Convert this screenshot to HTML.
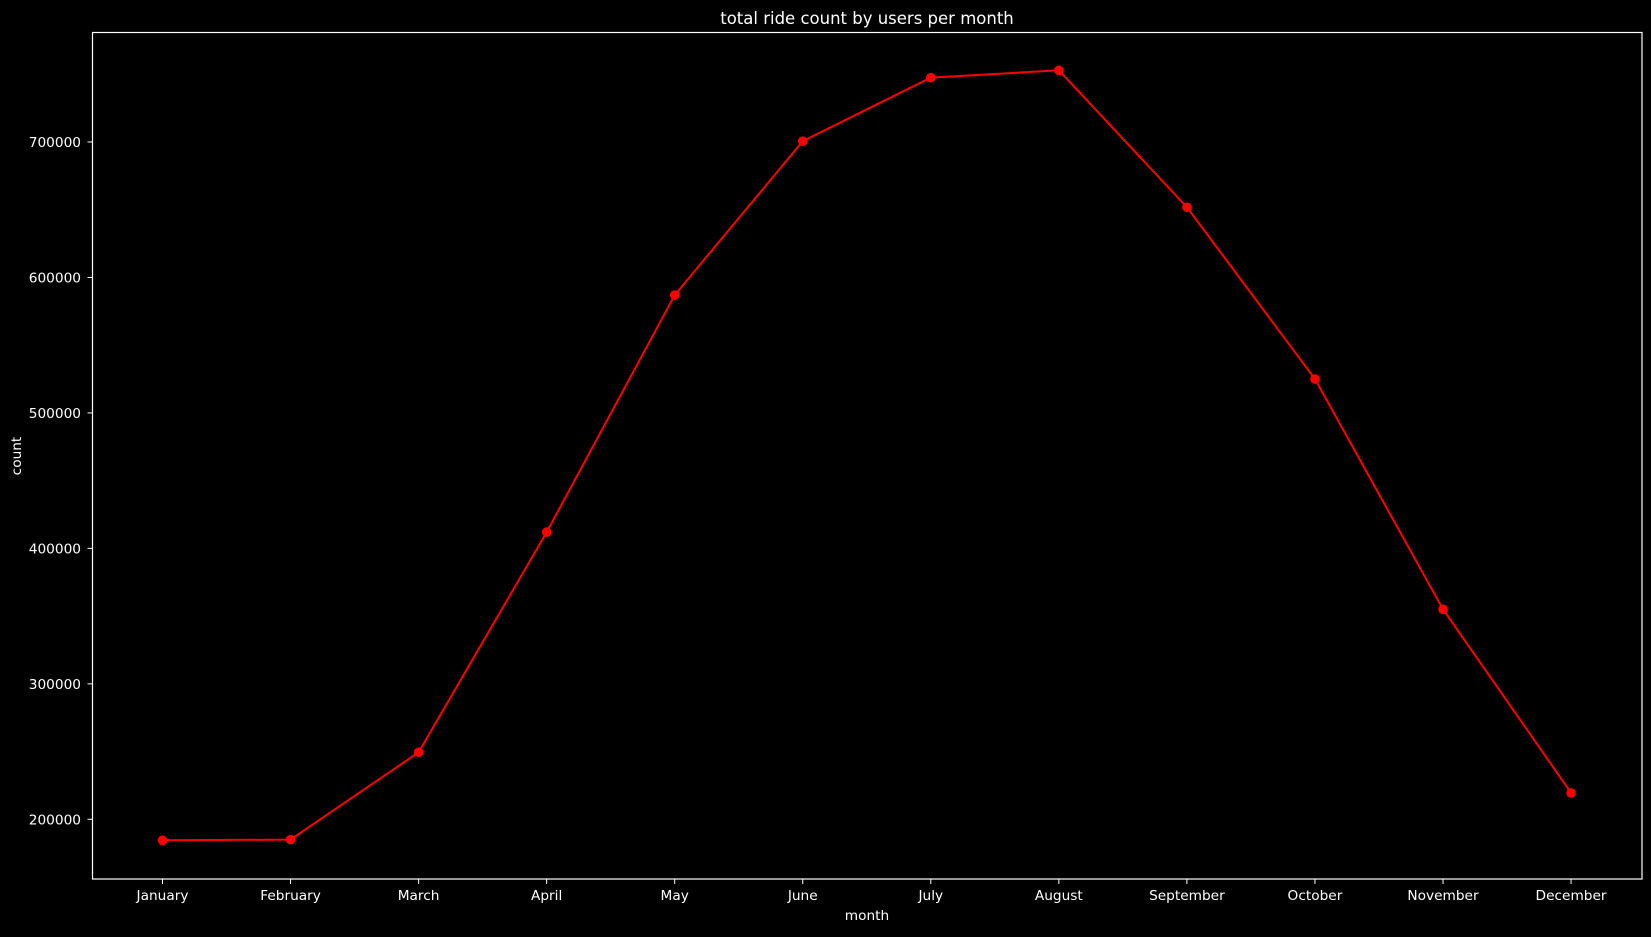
<!DOCTYPE html>
<html><head><meta charset="utf-8"><style>
html,body{margin:0;padding:0;background:#000;}
svg text{font-family:"DejaVu Sans","Liberation Sans",sans-serif;fill:#fff;}
</style></head><body>
<svg id="chart" width="1651" height="932" viewBox="0 0 1651 932" xmlns="http://www.w3.org/2000/svg">
<rect width="1651" height="932" fill="#000"/>
<text x="867" y="24" font-size="16.5" text-anchor="middle">total ride count by users per month</text>
<text x="867" y="920" font-size="13.7" text-anchor="middle">month</text>
<text x="21" y="456" font-size="13.7" text-anchor="middle" transform="rotate(-90 21 456)">count</text>
<g id="axes"></g>
<g id="marks"></g>
<rect x="92.5" y="32.5" width="1549.5" height="846.5" fill="none" stroke="#fff" stroke-width="1.2"/>
</svg>
<script>
const months = ["January","February","March","April","May","June","July","August","September","October","November","December"];
const counts = [184500,185000,249500,412000,587000,700600,747500,752900,651800,525000,355000,219500];
const yTicks = [200000,300000,400000,500000,600000,700000];
const yTickLabels = ["200000","300000","400000","500000","600000","700000"];

const NS = "http://www.w3.org/2000/svg";
function xPos(i){ return 162.5 + i*128.05; }
function yPos(v){ return 819.3 - (v-200000)*1.35466/1000; }
const axes = document.getElementById('axes');
const marks = document.getElementById('marks');
function mk(tag, attrs, parent){ const e=document.createElementNS(NS,tag); for(const k in attrs) e.setAttribute(k,attrs[k]); parent.appendChild(e); return e; }

months.forEach((m,i)=>{
  const t = mk('line',{x1:xPos(i),x2:xPos(i),y1:879,y2:884,stroke:'#fff','stroke-width':1},axes);
  
  
  const l = mk('text',{x:xPos(i),y:900,'font-size':13.7,'text-anchor':'middle'},axes);
  l.textContent = m;
  
  
});
yTicks.forEach((v,i)=>{
  const t = mk('line',{x1:87.5,x2:92.5,y1:yPos(v),y2:yPos(v),stroke:'#fff','stroke-width':1},axes);
  
  
  const l = mk('text',{x:81,y:yPos(v)+5,'font-size':13.7,'text-anchor':'end'},axes);
  l.textContent = yTickLabels[i];
  
  
});
const pts = counts.map((v,i)=>xPos(i)+','+yPos(v)).join(' ');
const line = mk('polyline',{points:pts,fill:'none',stroke:'#ff0000','stroke-width':2},marks);


counts.forEach((v,i)=>{
  const c = mk('circle',{cx:xPos(i),cy:yPos(v),r:4.8,fill:'#ff0000'},marks);
  
  
});
</script>
</body></html>
